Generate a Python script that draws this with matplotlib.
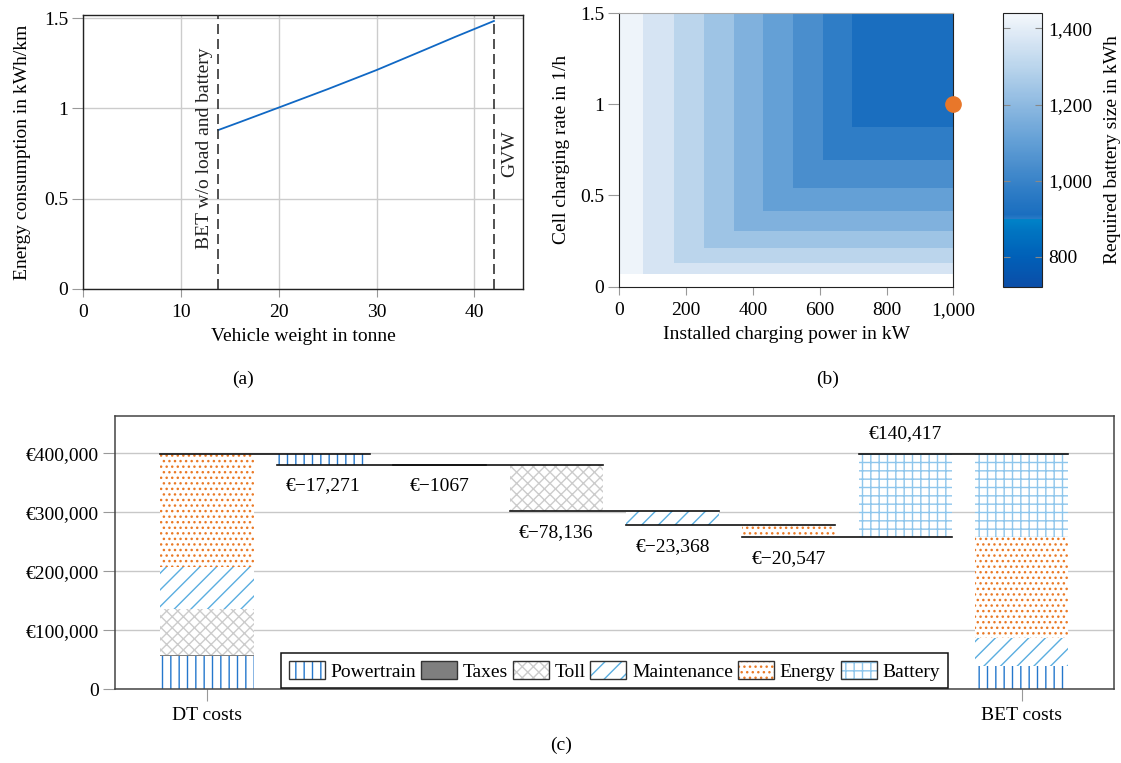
import numpy as np
import matplotlib
matplotlib.use("Agg")
import matplotlib.pyplot as plt
from matplotlib.colors import LinearSegmentedColormap, Normalize
from matplotlib.patches import Patch
from matplotlib.ticker import FuncFormatter

plt.rcParams['font.family'] = ['Liberation Serif', 'DejaVu Serif']
plt.rcParams['font.size'] = 14
plt.rcParams['hatch.linewidth'] = 1.0

# (a) energy consumption over vehicle weight
weight_t = [13.8, 16, 20, 25, 30, 35, 38, 42]
consumption_kwh_km = [0.88, 0.924, 1.005, 1.107, 1.213, 1.327, 1.396, 1.485]
empty_weight_t = 13.8
gvw_t = 42

# (b) required battery size over charging power and cell charging rate
power_edges_kw = [0, 72, 163, 252, 342, 431, 520, 609, 698, 1000]
rate_edges_h = [0, 0.066, 0.128, 0.211, 0.304, 0.414, 0.540, 0.692, 0.875, 1.5]
band_kwh = [1425, 1365, 1300, 1235, 1170, 1105, 1040, 975, 910]
chosen_power_kw = 1000
chosen_rate_h = 1.0

# (c) cost waterfall DT -> BET
components = ['Powertrain', 'Taxes', 'Toll', 'Maintenance', 'Energy', 'Battery']
dt_costs = [57000, 1067, 78136, 70300, 191500, 0]
changes = [-17271, -1067, -78136, -23368, -20547, 140417]

# colour map for the battery size
cmap_points = [(721, '#0b4ea8'), (800, '#0060b8'), (870, '#0076c2'), (896, '#0082c8'),
               (897, '#2a7bc6'), (910, '#1a6ebf'), (975, '#2f7dc6'), (1040, '#4a8ecd'),
               (1105, '#64a0d6'), (1170, '#80b1dd'), (1235, '#9dc3e5'), (1300, '#bad5ec'),
               (1365, '#d5e4f3'), (1425, '#eef4fa'), (1440, '#f4f8fd')]
vmin, vmax = cmap_points[0][0], cmap_points[-1][0]
cmap = LinearSegmentedColormap.from_list(
    'battery', [((v - vmin) / (vmax - vmin), c) for v, c in cmap_points])

styles = {
    'Powertrain': dict(hatch='||', color='#2477cc', face='white'),
    'Taxes': dict(hatch=None, color='#7f7f7f', face='#7f7f7f'),
    'Toll': dict(hatch='xxx', color='#cccccc', face='white'),
    'Maintenance': dict(hatch='//', color='#5aaee0', face='white'),
    'Energy': dict(hatch='...', color='#ea7a26', face='white'),
    'Battery': dict(hatch='++', color='#8ec6ec', face='white'),
}

fig = plt.figure(figsize=(11.21, 7.63), dpi=100)
tick_grey = '#999999'

# ---------- (a) ----------
ax1 = fig.add_axes([0.0743, 0.6216, 0.3925, 0.3587])
ax1.plot(weight_t, consumption_kwh_km, color='#1068c4', lw=1.3, zorder=3)
for xv in (empty_weight_t, gvw_t):
    ax1.axvline(xv, color='#333333', lw=1.2, dashes=(6, 3), zorder=3)
ax1.text(empty_weight_t - 0.55, 0.78, 'BET w/o load and battery', rotation=90,
         ha='right', va='center', color='#222222')
ax1.text(gvw_t + 0.75, 0.75, 'GVW', rotation=90, ha='left', va='center', color='#222222')
ax1.set_xlim(0, 45)
ax1.set_ylim(0, 1.518)
ax1.set_xticks([0, 10, 20, 30, 40])
ax1.set_yticks([0, 0.5, 1, 1.5])
ax1.set_yticklabels(['0', '0.5', '1', '1.5'])
ax1.grid(True, color='#cccccc', lw=1)
ax1.set_axisbelow(True)
ax1.tick_params(axis='x', direction='out', length=6, color=tick_grey, pad=5)
ax1.tick_params(axis='y', direction='out', length=8, color=tick_grey, pad=3)
for s in ax1.spines.values():
    s.set_color('#222222')
    s.set_linewidth(1.0)
ax1.set_xlabel('Vehicle weight in tonne', labelpad=5)
ax1.set_ylabel('Energy consumption in kWh/km', labelpad=9)

# ---------- (b) ----------
ax2 = fig.add_axes([0.5525, 0.6245, 0.2979, 0.3581])
bands = np.minimum.outer(np.arange(len(rate_edges_h) - 1), np.arange(len(power_edges_kw) - 1))
Z = np.array(band_kwh, dtype=float)[bands]
Z[0, :] = np.nan
mesh = ax2.pcolormesh(power_edges_kw, rate_edges_h, Z, cmap=cmap,
                      norm=Normalize(vmin, vmax), shading='flat')
ax2.plot(chosen_power_kw, chosen_rate_h, 'o', ms=11, color='#e8772a',
         clip_on=False, zorder=5)
ax2.set_xlim(0, 1000)
ax2.set_ylim(0, 1.5)
ax2.set_xticks([0, 200, 400, 600, 800, 1000])
ax2.xaxis.set_major_formatter(FuncFormatter(lambda v, p: f'{int(v):,}'))
ax2.set_yticks([0, 0.5, 1, 1.5])
ax2.set_yticklabels(['0', '0.5', '1', '1.5'])
ax2.tick_params(axis='x', direction='out', length=6, color=tick_grey, pad=5)
ax2.tick_params(axis='y', direction='out', length=8, color=tick_grey, pad=3)
for s in ax2.spines.values():
    s.set_color('#222222')
ax2.spines['top'].set_color('#aaaaaa')
ax2.set_xlabel('Installed charging power in kW', labelpad=5)
ax2.set_ylabel('Cell charging rate in 1/h', labelpad=7)

cax = fig.add_axes([0.8947, 0.6243, 0.0345, 0.3583])
cbar = fig.colorbar(mesh, cax=cax)
cbar.set_ticks([800, 1000, 1200, 1400])
cbar.ax.yaxis.set_major_formatter(FuncFormatter(lambda v, p: f'{int(v):,}'))
cbar.ax.tick_params(direction='in', left=True, right=True, length=5,
                    color='#888888', pad=5)
cbar.outline.set_edgecolor('#222222')
cbar.set_label('Required battery size in kWh', labelpad=8)

# ---------- (c) ----------
ax3 = fig.add_axes([0.1026, 0.0966, 0.8908, 0.3582])
width = 0.8
bet_costs = [d + c for d, c in zip(dt_costs, changes)]
n_steps = len(components)
x_bet = n_steps + 1


def draw_bar(x, bottom, height, name):
    st = styles[name]
    ax3.bar(x, height, width, bottom=bottom, color=st['face'], edgecolor=st['color'],
            hatch=st['hatch'], lw=0, zorder=2)


# stacked totals on both ends
bottom = 0
for name, v in zip(components, dt_costs):
    if v:
        draw_bar(0, bottom, v, name)
    bottom += v
dt_total = bottom
bottom = 0
for name, v in zip(components, bet_costs):
    if v:
        draw_bar(x_bet, bottom, v, name)
    bottom += v

# waterfall steps with connector lines and labels
level = dt_total
ax3.plot([-width / 2, 1 + width / 2], [level, level], color='#111111', lw=1.2, zorder=3)
for i, (name, d) in enumerate(zip(components, changes)):
    x = i + 1
    new_level = level + d
    draw_bar(x, min(level, new_level), abs(d), name)
    ax3.plot([x - width / 2, x + 1 + width / 2], [new_level, new_level],
             color='#111111', lw=1.2, zorder=3)
    num = f'{abs(d):,}' if abs(d) >= 10000 else f'{abs(d)}'
    label = ('€−' if d < 0 else '€') + num
    if d < 0:
        ax3.annotate(label, (x, new_level), xytext=(0, -9), textcoords='offset points',
                     ha='center', va='top')
    else:
        ax3.annotate(label, (x, new_level), xytext=(0, 9), textcoords='offset points',
                     ha='center', va='bottom')
    level = new_level

ax3.set_xlim(-0.79, 7.79)
ax3.set_ylim(0, 463000)
ax3.set_yticks([0, 100000, 200000, 300000, 400000])
ax3.yaxis.set_major_formatter(FuncFormatter(lambda v, p: '0' if v == 0 else f'€{int(v):,}'))
ax3.set_xticks([0, x_bet])
ax3.set_xticklabels(['DT costs', 'BET costs'])
ax3.yaxis.grid(True, color='#c8c8c8', lw=1)
ax3.set_axisbelow(True)
ax3.tick_params(axis='both', direction='out', length=8.5, color=tick_grey)
ax3.tick_params(axis='y', pad=3)
ax3.tick_params(axis='x', pad=4)
for s in ax3.spines.values():
    s.set_color('#444444')
    s.set_linewidth(1.1)

handles = []
for name in components:
    st = styles[name]
    fill = Patch(facecolor=st['face'], edgecolor=st['color'], hatch=st['hatch'], lw=0)
    frame = Patch(facecolor='none', edgecolor='#333333', lw=1)
    handles.append((fill, frame))
leg = ax3.legend(handles, components, loc='lower center', ncol=6, frameon=True,
                 fancybox=False, edgecolor='#111111', framealpha=1,
                 handlelength=1.85, handleheight=1.0, handletextpad=0.3,
                 columnspacing=0.25, borderpad=0.4, borderaxespad=0.05)
leg.get_frame().set_linewidth(1.1)
leg.set_zorder(5)

fig.text(243 / 1121, 1 - 379 / 763, '(a)', ha='center', va='center')
fig.text(828 / 1121, 1 - 379 / 763, '(b)', ha='center', va='center')
fig.text(561 / 1121, 1 - 745 / 763, '(c)', ha='center', va='center')

fig.savefig('out.png', dpi=100)
